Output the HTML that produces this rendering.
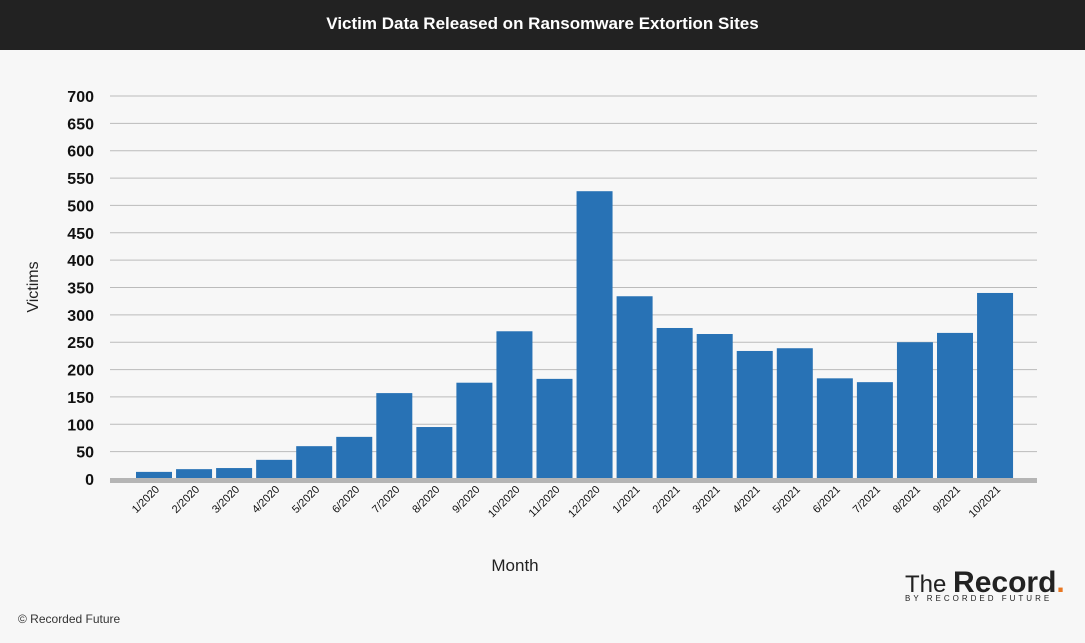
<!DOCTYPE html>
<html><head><meta charset="utf-8"><style>
body{margin:0;width:1085px;height:643px;background:#f7f7f7;font-family:"Liberation Sans",sans-serif;overflow:hidden;position:relative}
#title{position:absolute;left:0;top:0;width:1085px;height:50px;background:#222;color:#fff;font-weight:bold;font-size:17px;line-height:48px;text-align:center}
#copy{position:absolute;left:18px;top:612px;font-size:12px;color:#333}
#logo{position:absolute;left:905px;top:566px;color:#222}
</style></head><body>
<div id="title">Victim Data Released on Ransomware Extortion Sites</div>
<svg id="chart" width="1085" height="600" style="position:absolute;left:0;top:0"></svg>
<div id="copy">© Recorded Future</div>
<div id="logo"><span style="font-size:24px">The </span><span style="font-size:30px;font-weight:bold">Record</span><span style="font-size:30px;font-weight:bold;color:#e87722">.</span><div style="font-size:8px;letter-spacing:3px;margin-top:-6px;padding-left:0px">BY RECORDED FUTURE</div></div>
<script>
const categories=["1/2020","2/2020","3/2020","4/2020","5/2020","6/2020","7/2020","8/2020","9/2020","10/2020","11/2020","12/2020","1/2021","2/2021","3/2021","4/2021","5/2021","6/2021","7/2021","8/2021","9/2021","10/2021"];
const victims=[13,18,20,35,60,77,157,95,176,270,183,526,334,276,265,234,239,184,177,250,267,340];
const yTicks=[0,50,100,150,200,250,300,350,400,450,500,550,600,650,700];
const svg=document.getElementById('chart');const NS='http://www.w3.org/2000/svg';
function el(t,a){const e=document.createElementNS(NS,t);for(const k in a)e.setAttribute(k,a[k]);svg.appendChild(e);return e;}
const y0=479,y1=96,yMax=700,bandL=134,pitch=40.05,bw=36;
const y=v=>y0-(v/yMax)*(y0-y1);
const x=i=>bandL+i*pitch;
yTicks.forEach(t=>{
 if(t>0){const g=el('line',{x1:110,x2:1037,y1:y(t),y2:y(t),stroke:'#bbb','stroke-width':1});
 
 }
 const l=el('text',{x:94,y:y(t)+6,'text-anchor':'end','font-size':16,'font-weight':'bold',fill:'#111'});l.textContent=t;
 
 
});
victims.forEach((v,i)=>{
 const r=el('rect',{x:x(i)+2,y:y(v),width:bw,height:y0-y(v),fill:'#2872b5'});
 
 
 const cx=x(i)+pitch/2;
 const t=el('text',{x:cx+6,y:490,'text-anchor':'end','font-size':11,fill:'#111',transform:`rotate(-45 ${cx+6} 490)`});t.textContent=categories[i];
 
 
});
const ax=el('rect',{x:110,y:478,width:927,height:5,fill:'#b5b5b5'});


const yt=el('text',{x:38,y:287,'text-anchor':'middle','font-size':16,fill:'#222',transform:'rotate(-90 38 287)'});yt.textContent='Victims';


const xt=el('text',{x:515,y:571,'text-anchor':'middle','font-size':17,fill:'#222'});xt.textContent='Month';


</script>
</body></html>
